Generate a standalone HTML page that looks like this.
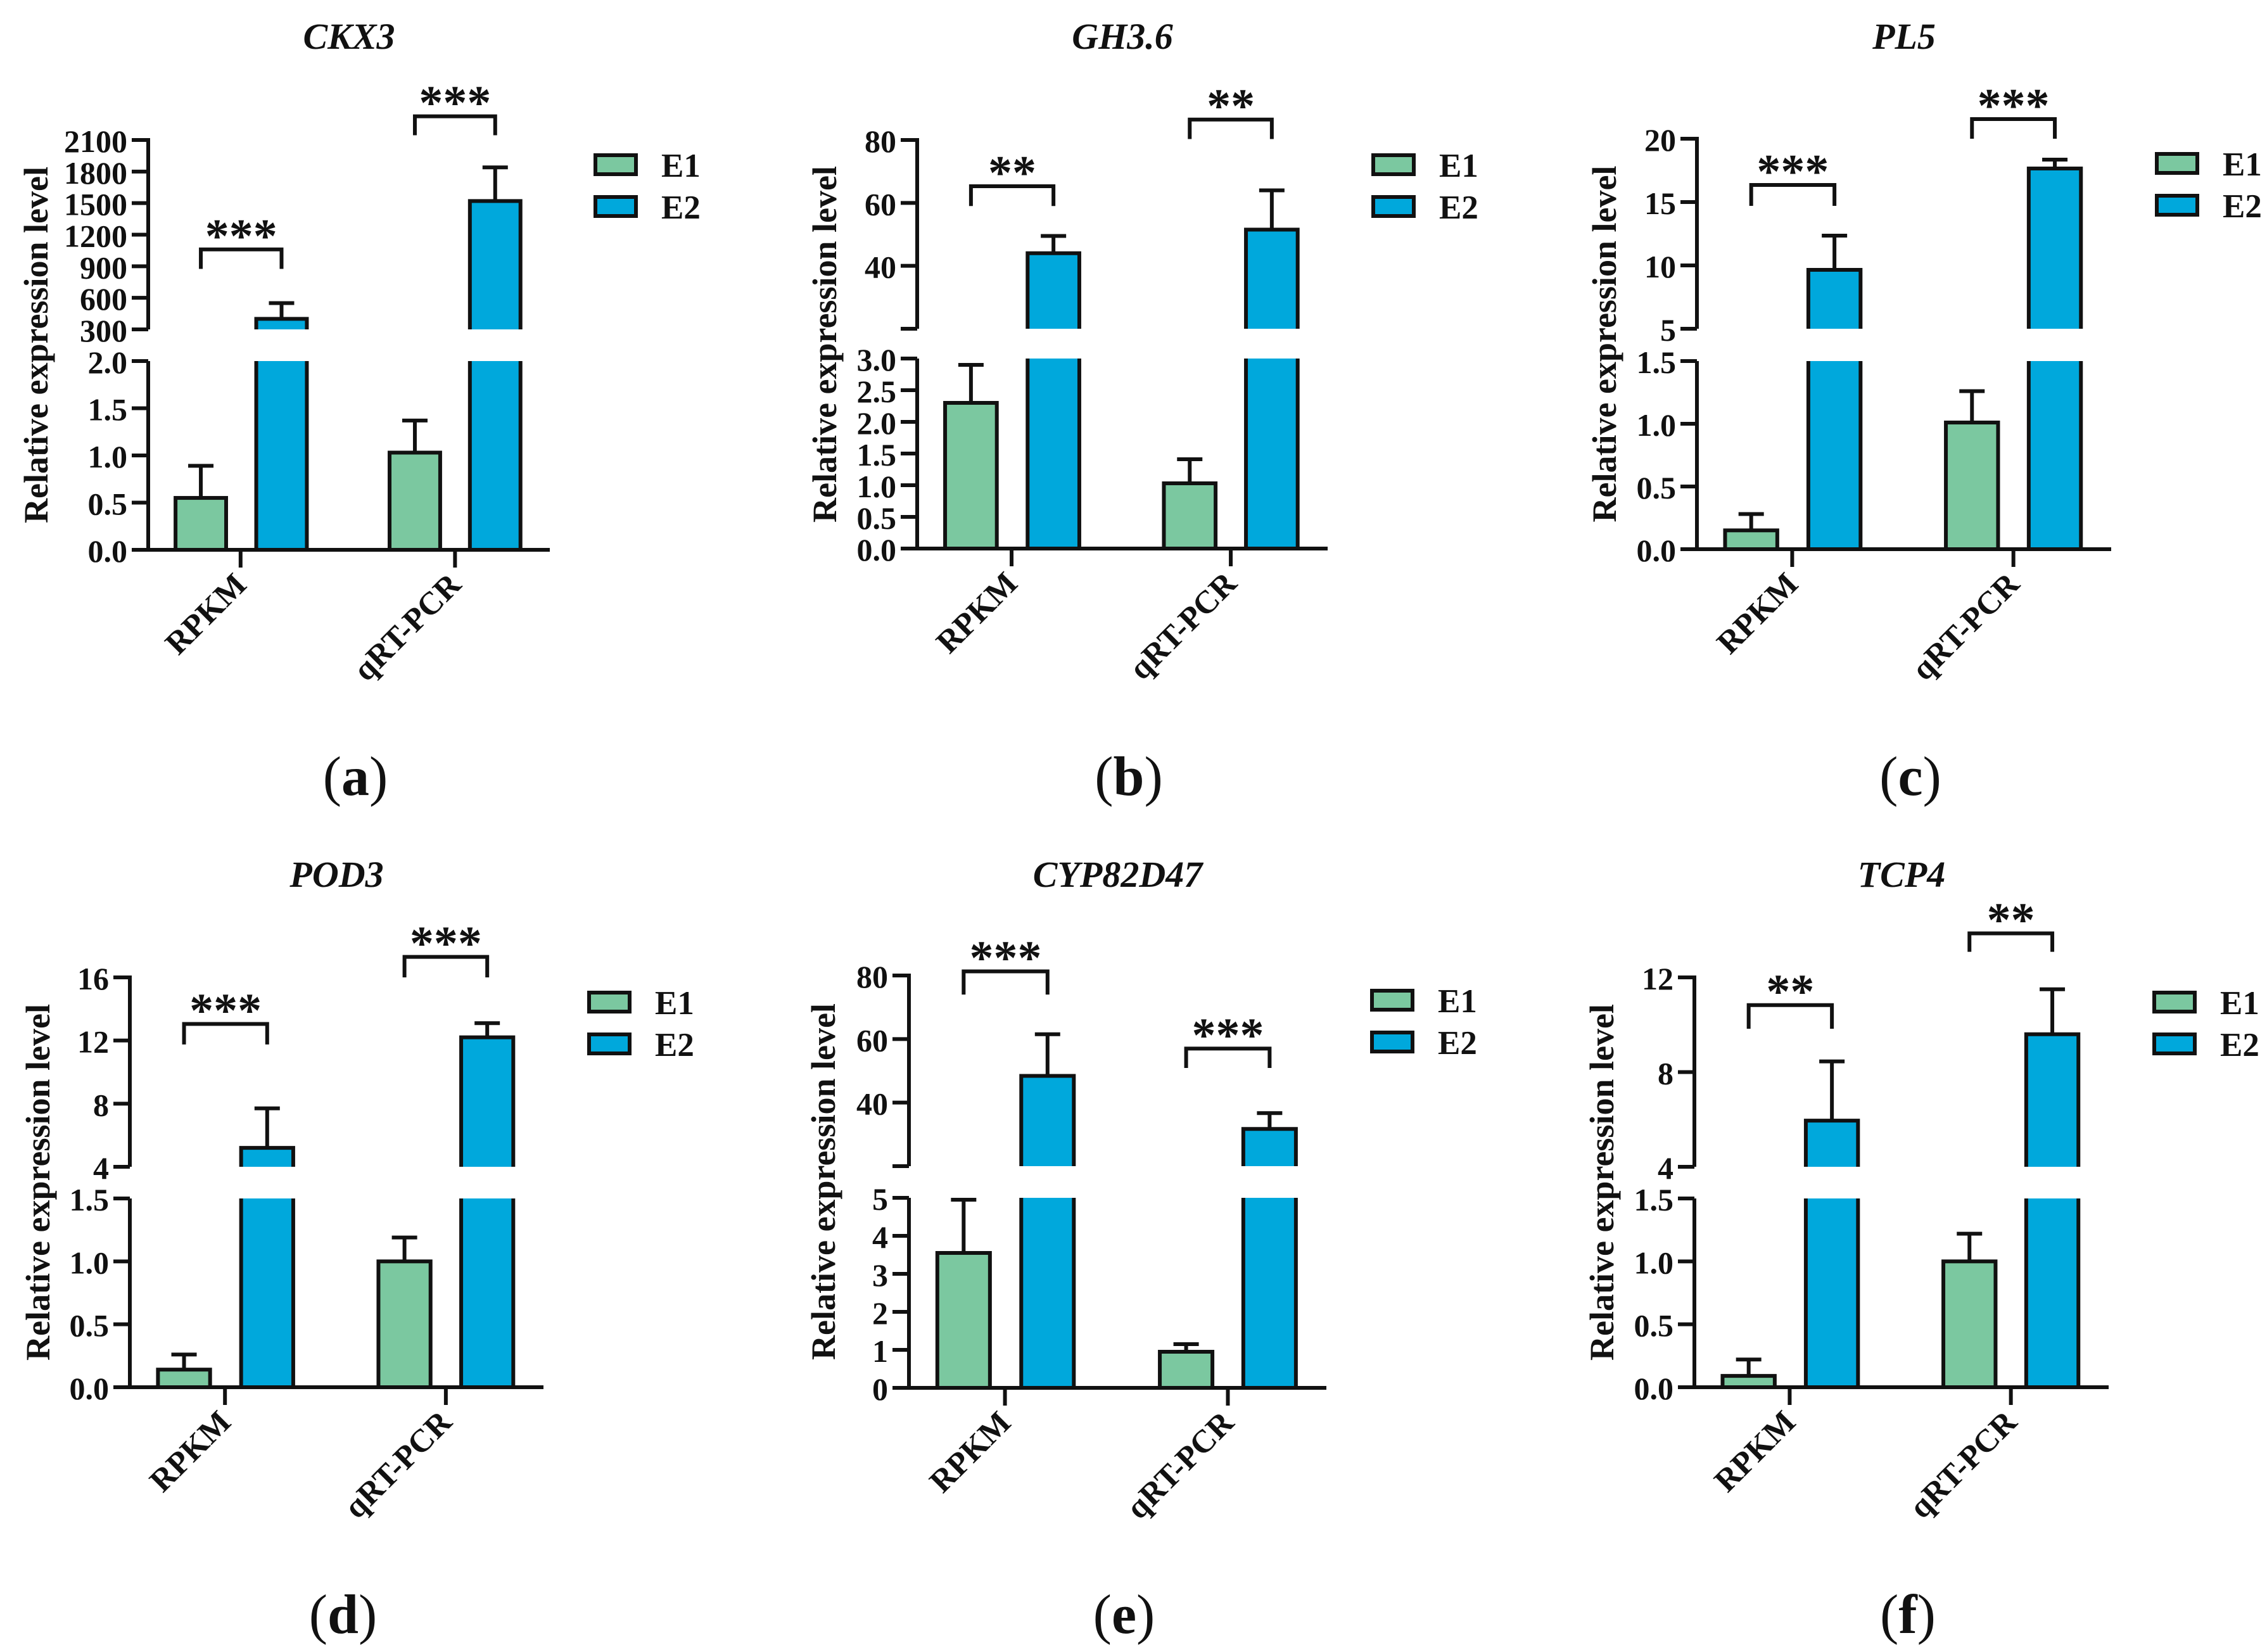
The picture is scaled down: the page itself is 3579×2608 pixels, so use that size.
<!DOCTYPE html>
<html><head><meta charset="utf-8">
<style>
html,body{margin:0;padding:0;background:#fff;}
svg{display:block;}
text{font-family:"Liberation Serif",serif;font-weight:bold;fill:#111;}
</style></head>
<body>
<svg id="fig" width="3579" height="2608" viewBox="0 0 3579 2608" xmlns="http://www.w3.org/2000/svg"></svg>
<script>
// ---- data (one entry per panel a..f) ----
const panelTitles = ["CKX3","GH3.6","PL5","POD3","CYP82D47","TCP4"];
const panelLetters = ["a","b","c","d","e","f"];
const categories = ["RPKM","qRT-PCR"];
const seriesNames = ["E1","E2"];
const e1Values = [[0.55,1.03],[2.3,1.03],[0.15,1.01],[0.14,1.0],[3.55,0.95],[0.09,1.0]];
const e1Errors = [[0.34,0.34],[0.6,0.38],[0.13,0.25],[0.12,0.19],[1.4,0.2],[0.13,0.22]];
const e2Values = [[400,1520],[44,51.5],[9.65,17.65],[5.2,12.2],[48.4,31.7],[5.95,9.6]];
const e2Errors = [[150,320],[5.5,12.5],[2.7,0.7],[2.5,0.9],[13.1,5],[2.5,1.9]];
const lowerRanges = [[0,2],[0,3],[0,1.5],[0,1.5],[0,5],[0,1.5]];
const upperRanges = [[300,2100],[20,80],[5,20],[4,16],[20,80],[4,12]];
const lowerTicks = [[0,0.5,1,1.5,2],[0,0.5,1,1.5,2,2.5,3],[0,0.5,1,1.5],[0,0.5,1,1.5],[0,1,2,3,4,5],[0,0.5,1,1.5]];
const lowerTickLabels = [["0.0","0.5","1.0","1.5","2.0"],["0.0","0.5","1.0","1.5","2.0","2.5","3.0"],["0.0","0.5","1.0","1.5"],["0.0","0.5","1.0","1.5"],["0","1","2","3","4","5"],["0.0","0.5","1.0","1.5"]];
const upperTicks = [[300,600,900,1200,1500,1800,2100],[40,60,80],[5,10,15,20],[4,8,12,16],[40,60,80],[4,8,12]];
const bracketTops = [[1060,2325],[65.3,86.5],[16.35,21.55],[13.05,17.3],[81.3,57],[10.83,13.86]];
const bracketLegs = [[875,2145],[59,80.3],[14.7,20],[11.75,16],[74,50.9],[9.83,13.08]];
const sigLabels = [["***","***"],["**","**"],["***","***"],["***","***"],["***","***"],["**","**"]];

// ---- layout (pixels) ----
const layout = [
 {ax:234,y0:868,lt:570,ub:520,ut:221,xe:868,lab:-177,ty:57,py:1225},
 {ax:1448,y0:866,lt:566,ub:519,ut:221,xe:2096,lab:-146,ty:57,py:1225},
 {ax:2679,y0:867,lt:570,ub:519,ut:219,xe:3333,lab:-146,ty:57,py:1225},
 {ax:205,y0:2190,lt:1892,ub:1842,ut:1543,xe:858,lab:-145,ty:1380,py:2548},
 {ax:1435,y0:2191,lt:1891,ub:1841,ut:1540,xe:2094,lab:-135,ty:1380,py:2548},
 {ax:2675,y0:2190,lt:1892,ub:1842,ut:1543,xe:3329,lab:-146,ty:1380,py:2548}
];
const GREEN="#7BC8A0", BLUE="#00A8DC", SW=6;
const NS="http://www.w3.org/2000/svg";
const svg=document.getElementById('fig');
function mk(tag,attrs,parent,txt){const e=document.createElementNS(NS,tag);for(const k in attrs)e.setAttribute(k,attrs[k]);if(txt!==undefined)e.textContent=txt;(parent||svg).appendChild(e);return e;}

for(let p=0;p<6;p++){
  const L=layout[p];
  const g=mk('g',{});
  
  
  const W=L.xe-L.ax;
  const lr=lowerRanges[p], ur=upperRanges[p];
  const yLow=v=>L.y0-(v-lr[0])/(lr[1]-lr[0])*(L.y0-L.lt);
  const yUp=v=>L.ub-(v-ur[0])/(ur[1]-ur[0])*(L.ub-L.ut);
  const xPos=f=>L.ax+f*W;
  const bw=0.126*W;
  const centers=[[0.131,0.664],[0.332,0.864]];
  let t=mk('text',{x:(L.ax+L.xe)/2,y:L.ty+20,'text-anchor':'middle','font-size':58,'font-style':'italic'},g,panelTitles[p]);
  
  
  t=mk('text',{x:(L.ax+L.xe)/2+10,y:L.py+30,'text-anchor':'middle','font-size':88,'font-weight':'normal'},g);
  
  
  mk('tspan',{'font-weight':'normal'},t,'(');mk('tspan',{'font-weight':'bold'},t,panelLetters[p]);mk('tspan',{'font-weight':'normal'},t,')');
  const my=(L.ut+L.y0)/2;
  t=mk('text',{x:L.ax+L.lab,y:my,'text-anchor':'middle','dominant-baseline':'central','font-size':54,transform:`rotate(-90 ${L.ax+L.lab} ${my})`},g,'Relative expression level');
  
  
  const vals=[e1Values[p],e2Values[p]], errs=[e1Errors[p],e2Errors[p]], cols=[GREEN,BLUE];
  for(let s=0;s<2;s++){
    for(let c=0;c<2;c++){
      const v=vals[s][c], er=errs[s][c], cx=xPos(centers[s][c]), x1=cx-bw/2;
      const bg=mk('g',{},g);
      
      
      if(v<=lr[1]){
        const yt=yLow(v);
        mk('rect',{x:x1,y:yt,width:bw,height:L.y0-yt,fill:cols[s],stroke:'#111','stroke-width':SW},bg);
        mk('line',{x1:cx,y1:yt,x2:cx,y2:yLow(v+er),stroke:'#111','stroke-width':SW},bg);
        mk('line',{x1:cx-20,y1:yLow(v+er),x2:cx+20,y2:yLow(v+er),stroke:'#111','stroke-width':SW},bg);
      } else {
        mk('rect',{x:x1,y:L.lt,width:bw,height:L.y0-L.lt,fill:cols[s]},bg);
        mk('path',{d:`M${x1} ${L.lt}V${L.y0}H${x1+bw}V${L.lt}`,fill:'none',stroke:'#111','stroke-width':SW},bg);
        const yt=yUp(v);
        mk('rect',{x:x1,y:yt,width:bw,height:L.ub-yt,fill:cols[s]},bg);
        mk('path',{d:`M${x1} ${L.ub}V${yt}H${x1+bw}V${L.ub}`,fill:'none',stroke:'#111','stroke-width':SW},bg);
        const ye=yUp(v+er);
        mk('line',{x1:cx,y1:yt,x2:cx,y2:ye,stroke:'#111','stroke-width':SW},bg);
        mk('line',{x1:cx-20,y1:ye,x2:cx+20,y2:ye,stroke:'#111','stroke-width':SW},bg);
      }
    }
  }
  const axg=mk('g',{stroke:'#111','stroke-width':SW,fill:'none'},g);
  
  
  mk('line',{x1:L.ax,y1:L.y0+3,x2:L.ax,y2:L.lt},axg);
  mk('line',{x1:L.ax,y1:L.ub,x2:L.ax,y2:L.ut-3},axg);
  mk('line',{x1:L.ax-26,y1:L.ub,x2:L.ax,y2:L.ub},axg);
  lowerTicks[p].forEach((v,i)=>{
    const y=yLow(v);
    mk('line',{x1:L.ax-26,y1:y,x2:L.ax,y2:y},axg);
    const tt=mk('text',{x:L.ax-33,y:y+2,'text-anchor':'end','dominant-baseline':'central','font-size':50},g,lowerTickLabels[p][i]);
    
    
  });
  upperTicks[p].forEach(v=>{
    const y=yUp(v);
    mk('line',{x1:L.ax-26,y1:y,x2:L.ax,y2:y},axg);
    const tt=mk('text',{x:L.ax-33,y:y+2,'text-anchor':'end','dominant-baseline':'central','font-size':50},g,String(v));
    
    
  });
  const xg=mk('g',{stroke:'#111','stroke-width':SW},g);
  
  
  mk('line',{x1:L.ax-26,y1:L.y0,x2:L.xe,y2:L.y0},xg);
  [0.23,0.764].forEach((f,c)=>{
    const tx=xPos(f);
    mk('line',{x1:tx,y1:L.y0,x2:tx,y2:L.y0+28},xg);
    const lx=tx+12, ly=L.y0+58;
    const tt=mk('text',{x:lx,y:ly,'text-anchor':'end','font-size':51,transform:`rotate(-45 ${lx} ${ly})`},g,categories[c]);
    
    
  });
  for(let c=0;c<2;c++){
    const xa=xPos(centers[0][c]), xb=xPos(centers[1][c]);
    const yt=yUp(bracketTops[p][c]), yl=yUp(bracketLegs[p][c]);
    const sg=mk('g',{},g);
    
    
    mk('path',{d:`M${xa} ${yl}V${yt}H${xb}V${yl}`,fill:'none',stroke:'#111','stroke-width':SW},sg);
    mk('text',{x:(xa+xb)/2,y:yt+4,'text-anchor':'middle','font-size':76},sg,sigLabels[p][c]);
  }
  for(let s=0;s<2;s++){
    const ly=L.ut+39+s*66, lx=L.xe+72;
    const lg=mk('g',{},g);
    
    
    mk('rect',{x:lx,y:ly-15,width:64,height:30,fill:cols[s],stroke:'#111','stroke-width':SW},lg);
    mk('text',{x:lx+104,y:ly+2,'dominant-baseline':'central','font-size':53},lg,seriesNames[s]);
  }
}
</script>
</body></html>
